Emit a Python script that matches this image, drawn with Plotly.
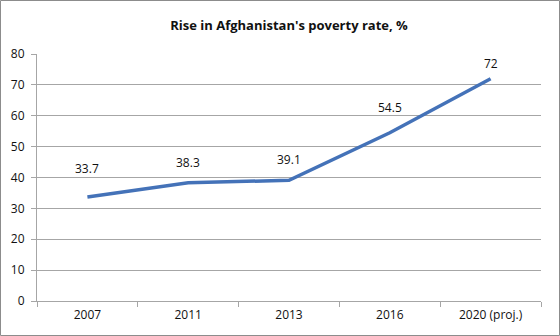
import plotly.graph_objects as go

categories = ["2007", "2011", "2013", "2016", "2020 (proj.)"]
poverty_rate = [33.7, 38.3, 39.1, 54.5, 72]
label_text = ["33.7", "38.3", "39.1", "54.5", "72"]
y_ticks = [0, 10, 20, 30, 40, 50, 60, 70, 80]
title_text = "Rise in Afghanistan's poverty rate, %"

# per-label vertical offsets (px) – styling only
label_offsets = [28, 20, 21, 25, 15]

FONT = "Open Sans"
GRID = "#A6A6A6"
LINE = "#4472B8"

fig = go.Figure()
fig.add_trace(go.Scatter(
    x=categories, y=poverty_rate, mode="lines",
    line=dict(color=LINE, width=3.5),
    hoverinfo="skip", showlegend=False,
))

# annotations on a category axis are positioned by category index
for i, (v, t, off) in enumerate(zip(poverty_rate, label_text, label_offsets)):
    fig.add_annotation(x=i, y=v, text=t, showarrow=False, yshift=off,
                       font=dict(family=FONT, size=12, color="#111111"))

L, R, T, B = 37, 19, 54, 35
W, H = 560, 336
pw, ph = W - L - R, H - T - B

fig.add_shape(type="rect", xref="paper", yref="paper",
              x0=(0.5 - L) / pw, x1=(W - 0.5 - L) / pw,
              y0=(T + ph - (H - 0.5)) / ph, y1=(T + ph - 0.5) / ph,
              line=dict(color="#8C8C8C", width=1), layer="below")

fig.update_layout(
    width=W, height=H,
    margin=dict(l=L, r=R, t=T, b=B),
    paper_bgcolor="white", plot_bgcolor="white",
    title=dict(text="<b>" + title_text + "</b>", x=0.5, xref="paper",
               y=(H - 25) / H, yanchor="middle",
               font=dict(family=FONT, size=13, color="#111111")),
    font=dict(family=FONT, size=12, color="#111111"),
)
fig.update_xaxes(
    type="category", categoryorder="array", categoryarray=categories,
    range=[-0.5, len(categories) - 0.5],
    showgrid=False, showline=True, linecolor=GRID, linewidth=1,
    ticks="outside", tickson="boundaries", ticklen=5, tickcolor=GRID,
    tickfont=dict(family=FONT, size=12, color="#111111"),
    ticklabelstandoff=3, zeroline=False, fixedrange=True,
)
fig.update_yaxes(
    range=[0, 80], tickvals=y_ticks,
    showgrid=True, gridcolor=GRID, gridwidth=1,
    showline=True, linecolor=GRID, linewidth=1,
    ticks="outside", ticklen=5, tickcolor=GRID,
    tickfont=dict(family=FONT, size=12, color="#111111"),
    ticklabelstandoff=4, zeroline=False, fixedrange=True,
)

fig.write_html("out.html", config={"displayModeBar": False})
